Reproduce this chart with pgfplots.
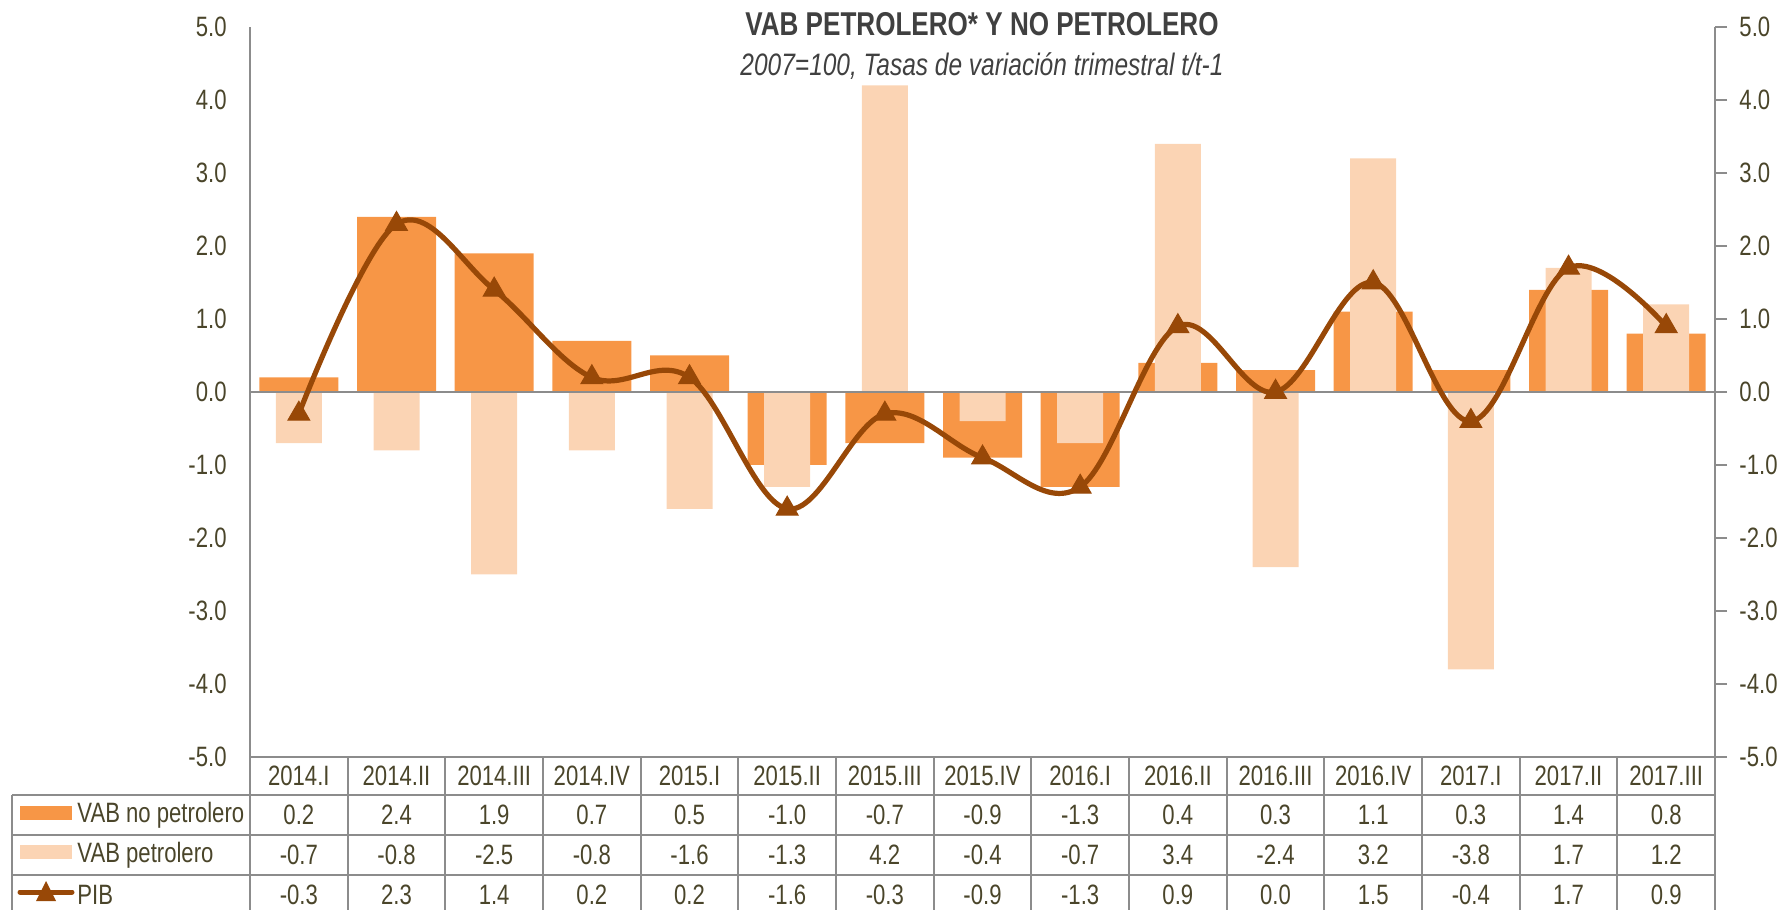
\documentclass[border=0pt]{standalone}
\usepackage{pgfplots}
\pgfplotsset{compat=1.18}
\usepackage{fontspec}
\setmainfont{Liberation Sans}[FakeStretch=0.79]
\definecolor{nopet}{HTML}{F79646}
\definecolor{pet}{HTML}{FBD4B4}
\definecolor{pib}{HTML}{984807}
\definecolor{txt}{HTML}{4A452A}
\definecolor{ttl}{HTML}{404040}
\definecolor{axl}{HTML}{8C8C8C}
\newcommand{\tabfont}{\fontsize{14bp}{16bp}\selectfont}
\begin{document}
\begin{tikzpicture}[x=0.5bp, y=0.5bp]
  \useasboundingbox (0,0) rectangle (1780,909);
  % main axis: bars and line
  \begin{axis}[
    at={(125bp,76bp)}, anchor=south west,
    scale only axis, width=732.5bp, height=365bp,
    xmin=-0.5, xmax=14.5, ymin=-5, ymax=5,
    axis x line=none, axis y line*=left,
    y axis line style={axl, line width=0.9bp, -},
    ytick={-5,-4,...,5}, ytick style={draw=none},
    yticklabel style={font=\tabfont, text=txt, inner sep=0pt, xshift=-11.5bp},
    /pgf/number format/.cd, fixed, fixed zerofill, precision=1, assume math mode=true,
    /pgfplots/.cd,
    ybar, bar shift=0pt, clip=false
  ]
    \addplot[fill=nopet, draw=none, bar width=39.5bp] coordinates {
      (0,0.2) (1,2.4) (2,1.9) (3,0.7) (4,0.5) (5,-1.0) (6,-0.7) (7,-0.9)
      (8,-1.3) (9,0.4) (10,0.3) (11,1.1) (12,0.3) (13,1.4) (14,0.8)};
    \addplot[fill=pet, draw=none, bar width=23bp] coordinates {
      (0,-0.7) (1,-0.8) (2,-2.5) (3,-0.8) (4,-1.6) (5,-1.3) (6,4.2) (7,-0.4)
      (8,-0.7) (9,3.4) (10,-2.4) (11,3.2) (12,-3.8) (13,1.7) (14,1.2)};
    \addplot[sharp plot, axl, line width=0.9bp] coordinates {(-0.5,0) (14.5,0)};
    \addplot[sharp plot, smooth, tension=0.6, pib, line width=2.6bp,
      mark=triangle*, mark size=6.3bp, mark options={fill=pib, draw=pib, line width=0.5bp}]
      coordinates {
      (0,-0.3) (1,2.3) (2,1.4) (3,0.2) (4,0.2) (5,-1.6) (6,-0.3) (7,-0.9)
      (8,-1.3) (9,0.9) (10,0.0) (11,1.5) (12,-0.4) (13,1.7) (14,0.9)};
  \end{axis}
  % right axis: tick labels only
  \begin{axis}[
    at={(125bp,76bp)}, anchor=south west,
    scale only axis, width=732.5bp, height=365bp,
    xmin=-0.5, xmax=14.5, ymin=-5, ymax=5,
    axis x line=none, axis y line*=right,
    y axis line style={axl, line width=0.9bp, -},
    ytick={-5,-4,...,5}, tick align=outside, major tick length=6bp,
    ytick style={axl, line width=0.9bp},
    yticklabel style={font=\tabfont, text=txt, inner sep=0pt, xshift=6bp},
    /pgf/number format/.cd, fixed, fixed zerofill, precision=1, assume math mode=true
  ]
  \end{axis}
  % titles
  \node[font=\bfseries\fontsize{16.5bp}{18bp}\selectfont, text=ttl] at (982,885) {VAB PETROLERO* Y NO PETROLERO};
  \node[font=\itshape\fontsize{15.5bp}{17bp}\selectfont, text=ttl] at (982,843) {2007=100, Tasas de variación trimestral t/t-1};
  % data table
  \begin{scope}[draw=axl, line width=0.9bp]
    \draw (250,152) -- (1715,152);
    \draw (12,114) -- (1715,114);
    \draw (12,74) -- (1715,74);
    \draw (12,34) -- (1715,34);
    \draw (12,114) -- (12,-10);
    \foreach \k in {0,...,15} \draw ({250+97.667*\k},152) -- ({250+97.667*\k},-10);
  \end{scope}
  \foreach \t [count=\i from 0] in {2014.I,2014.II,2014.III,2014.IV,2015.I,2015.II,2015.III,2015.IV,2016.I,2016.II,2016.III,2016.IV,2017.I,2017.II,2017.III}
    \node[font=\tabfont, text=txt] at ({250+97.667*(\i+0.5)},133) {\t};
  \foreach \v [count=\i from 0] in {0.2,2.4,1.9,0.7,0.5,-1.0,-0.7,-0.9,-1.3,0.4,0.3,1.1,0.3,1.4,0.8}
    \node[font=\tabfont, text=txt] at ({250+97.667*(\i+0.5)},94) {\v};
  \foreach \v [count=\i from 0] in {-0.7,-0.8,-2.5,-0.8,-1.6,-1.3,4.2,-0.4,-0.7,3.4,-2.4,3.2,-3.8,1.7,1.2}
    \node[font=\tabfont, text=txt] at ({250+97.667*(\i+0.5)},54) {\v};
  \foreach \v [count=\i from 0] in {-0.3,2.3,1.4,0.2,0.2,-1.6,-0.3,-0.9,-1.3,0.9,0.0,1.5,-0.4,1.7,0.9}
    \node[font=\tabfont, text=txt] at ({250+97.667*(\i+0.5)},14) {\v};
  % row labels with swatches
  \fill[nopet] (20,89) rectangle (72,103);
  \fill[pet] (20,50) rectangle (72,64);
  \draw[pib, line width=2.5bp, line cap=round] (20,17) -- (72,17);
  \fill[pib] (46,28) -- (36,8) -- (56,8) -- cycle;
  \node[font=\tabfont, text=txt, anchor=west, inner sep=0pt] at (77,94) {VAB no petrolero};
  \node[font=\tabfont, text=txt, anchor=west, inner sep=0pt] at (77,54) {VAB petrolero};
  \node[font=\tabfont, text=txt, anchor=west, inner sep=0pt] at (77,14) {PIB};
\end{tikzpicture}
\end{document}
